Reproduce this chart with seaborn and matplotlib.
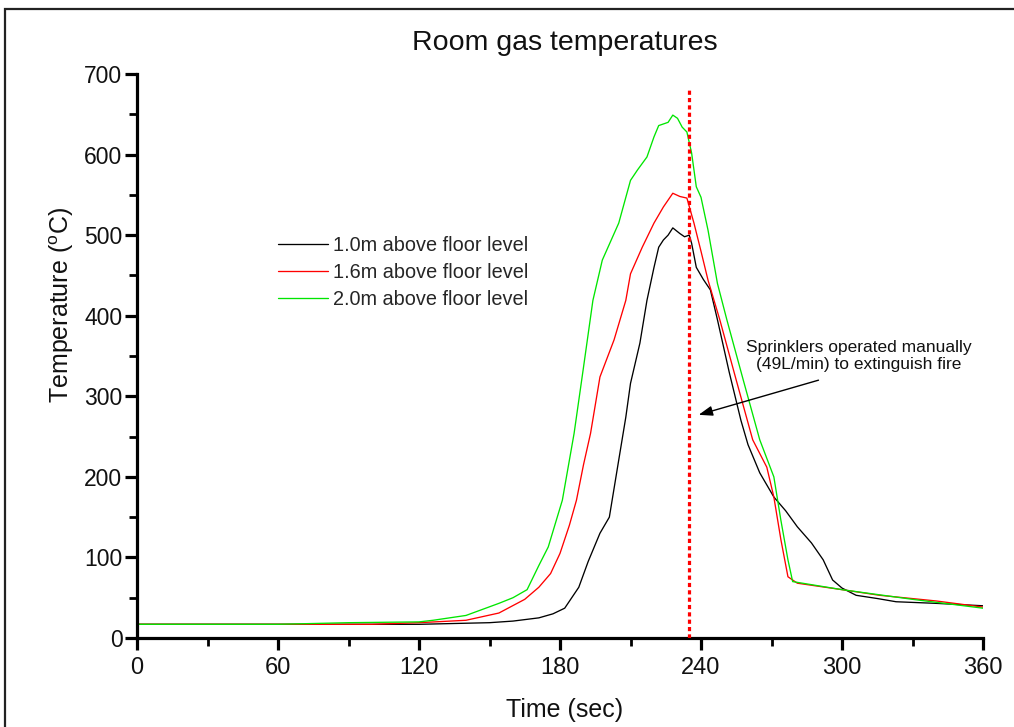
import matplotlib
matplotlib.use("Agg")
import matplotlib.pyplot as plt
from matplotlib.patches import Rectangle
from matplotlib.ticker import MultipleLocator
import pandas as pd
import seaborn as sns

# Room gas temperature (degC) against time (s) at three thermocouple heights
time_10 = [0, 60, 120, 150, 160, 171, 177, 182, 188, 192, 197, 201, 205, 208, 210,
           214, 217, 220, 222, 224, 226, 228, 231, 233, 235, 236, 238, 241, 244, 247,
           252, 257, 260, 265, 271, 276, 281, 287, 292, 296, 300, 306, 315, 323, 340, 360]
temp_10 = [17, 17, 17, 19, 21, 25, 30, 37, 63, 95, 130, 150, 221, 274, 316,
           366, 419, 460, 485, 494, 500, 509, 502, 498, 500, 490, 460, 445, 432, 395,
           330, 270, 240, 205, 175, 158, 138, 118, 97, 72, 62, 53, 49, 45, 43, 40]

time_16 = [0, 60, 100, 120, 140, 154, 165, 171, 176, 180, 184, 187, 190, 193, 197,
           203, 208, 210, 215, 220, 224, 228, 231, 234, 237, 240, 243, 248, 255, 262,
           268, 271, 274, 277, 281, 300, 316, 340, 361]
temp_16 = [17, 17, 17, 19, 22, 31, 48, 63, 80, 105, 140, 171, 215, 254, 324,
           370, 419, 452, 485, 515, 535, 552, 548, 546, 515, 480, 444, 395, 320, 246,
           212, 175, 122, 76, 68, 60, 53, 46, 38]

time_20 = [0, 60, 90, 120, 126, 140, 154, 160, 166, 171, 175, 181, 186, 190, 194,
           198, 205, 210, 213, 217, 220, 222, 226, 228, 230, 232, 234, 236, 238, 240,
           243, 245, 247, 251, 258, 265, 271, 274, 277, 279, 300, 330, 360]
temp_20 = [17, 17, 19, 20, 22, 28, 43, 50, 60, 90, 113, 171, 254, 336, 419,
           469, 515, 568, 581, 597, 622, 636, 640, 649, 645, 634, 628, 602, 560, 547,
           506, 473, 440, 395, 320, 246, 200, 146, 97, 70, 60, 48, 37]

series_labels = ["1.0m above floor level", "1.6m above floor level", "2.0m above floor level"]
series_colors = ["#000000", "#ff0000", "#00e600"]

sprinkler_time = 235
sprinkler_top = 680
note_text = "Sprinklers operated manually\n(49L/min) to extinguish fire"
note_pos = (307, 350)
arrow_tail = (290, 320)
arrow_head = (239, 277)

x_ticks = [0, 60, 120, 180, 240, 300, 360]
y_ticks = [0, 100, 200, 300, 400, 500, 600, 700]

frames = []
for lab, t, v in zip(series_labels, [time_10, time_16, time_20], [temp_10, temp_16, temp_20]):
    frames.append(pd.DataFrame({"time": t, "temp": v, "series": lab}))
df = pd.concat(frames, ignore_index=True)

sns.set_theme(style="ticks")
plt.rcParams["font.family"] = ["Liberation Sans", "DejaVu Sans"]
plt.rcParams["mathtext.fontset"] = "custom"
plt.rcParams["mathtext.rm"] = "Liberation Sans"

W, H = 1014, 727
fig = plt.figure(figsize=(W / 100, H / 100), dpi=100)
ax = fig.add_axes([137 / W, 1 - 638 / H, 846 / W, 564 / H])

sns.lineplot(data=df, x="time", y="temp", hue="series", hue_order=series_labels,
             palette=series_colors, estimator=None, sort=False, linewidth=0.95, ax=ax)

# sprinkler activation marker
ax.plot([sprinkler_time, sprinkler_time], [0, sprinkler_top], color="#ff0000",
        linewidth=2.3, linestyle=(0, (1.3, 1.0)), solid_capstyle="butt",
        dash_capstyle="butt", zorder=3)

ax.text(note_pos[0], note_pos[1], note_text, ha="center", va="center",
        fontsize=12.5, linespacing=1.15, color="#111111")
ax.annotate("", xy=arrow_head, xytext=arrow_tail,
            arrowprops=dict(arrowstyle="-|>,head_length=0.7,head_width=0.25",
                            color="black", lw=1.0, shrinkA=0, shrinkB=0))

ax.set_xlim(0, 360)
ax.set_ylim(0, 700)
ax.set_xticks(x_ticks)
ax.set_yticks(y_ticks)
ax.xaxis.set_minor_locator(MultipleLocator(30))
ax.yaxis.set_minor_locator(MultipleLocator(50))

for side in ("top", "right"):
    ax.spines[side].set_visible(False)
for side in ("left", "bottom"):
    ax.spines[side].set_linewidth(2.3)
    ax.spines[side].set_color("black")

ax.tick_params(which="major", length=8.5, width=2.3, color="black", direction="out")
ax.tick_params(which="minor", length=5.5, width=2.0, color="black", direction="out")
ax.tick_params(axis="x", which="major", labelsize=17, pad=5, labelcolor="#111111")
ax.tick_params(axis="y", which="major", labelsize=16.5, pad=2, labelcolor="#111111")

ax.set_xlabel("Time (sec)", fontsize=18, color="#111111")
ax.xaxis.label.set_va("center")
ax.xaxis.set_label_coords((565 - 137) / 846, (638 - 710) / 564)
ax.set_ylabel("Temperature ($\\mathregular{^{o}}$C)", fontsize=18, color="#111111")
ax.yaxis.label.set_va("center")
ax.yaxis.set_label_coords((62 - 137) / 846, (638 - 305) / 564)

fig.text(565 / W, 1 - 43 / H, "Room gas temperatures", ha="center", va="center",
         fontsize=20.5, color="#111111")

handles, labels = ax.get_legend_handles_labels()
ax.legend(handles, labels, loc="upper left",
          bbox_to_anchor=((278 - 137) / 846, (638 - 236) / 564),
          frameon=False, fontsize=14.3, handlelength=2.5, handletextpad=0.25,
          labelspacing=0.4, borderpad=0, borderaxespad=0)

# page frame
fig.add_artist(Rectangle((5 / W, -0.05), 1.2, 1 - 9 / H + 0.05,
                         transform=fig.transFigure, fill=False,
                         linewidth=1.6, edgecolor="#222222"))

fig.savefig("out.png", dpi=100)
